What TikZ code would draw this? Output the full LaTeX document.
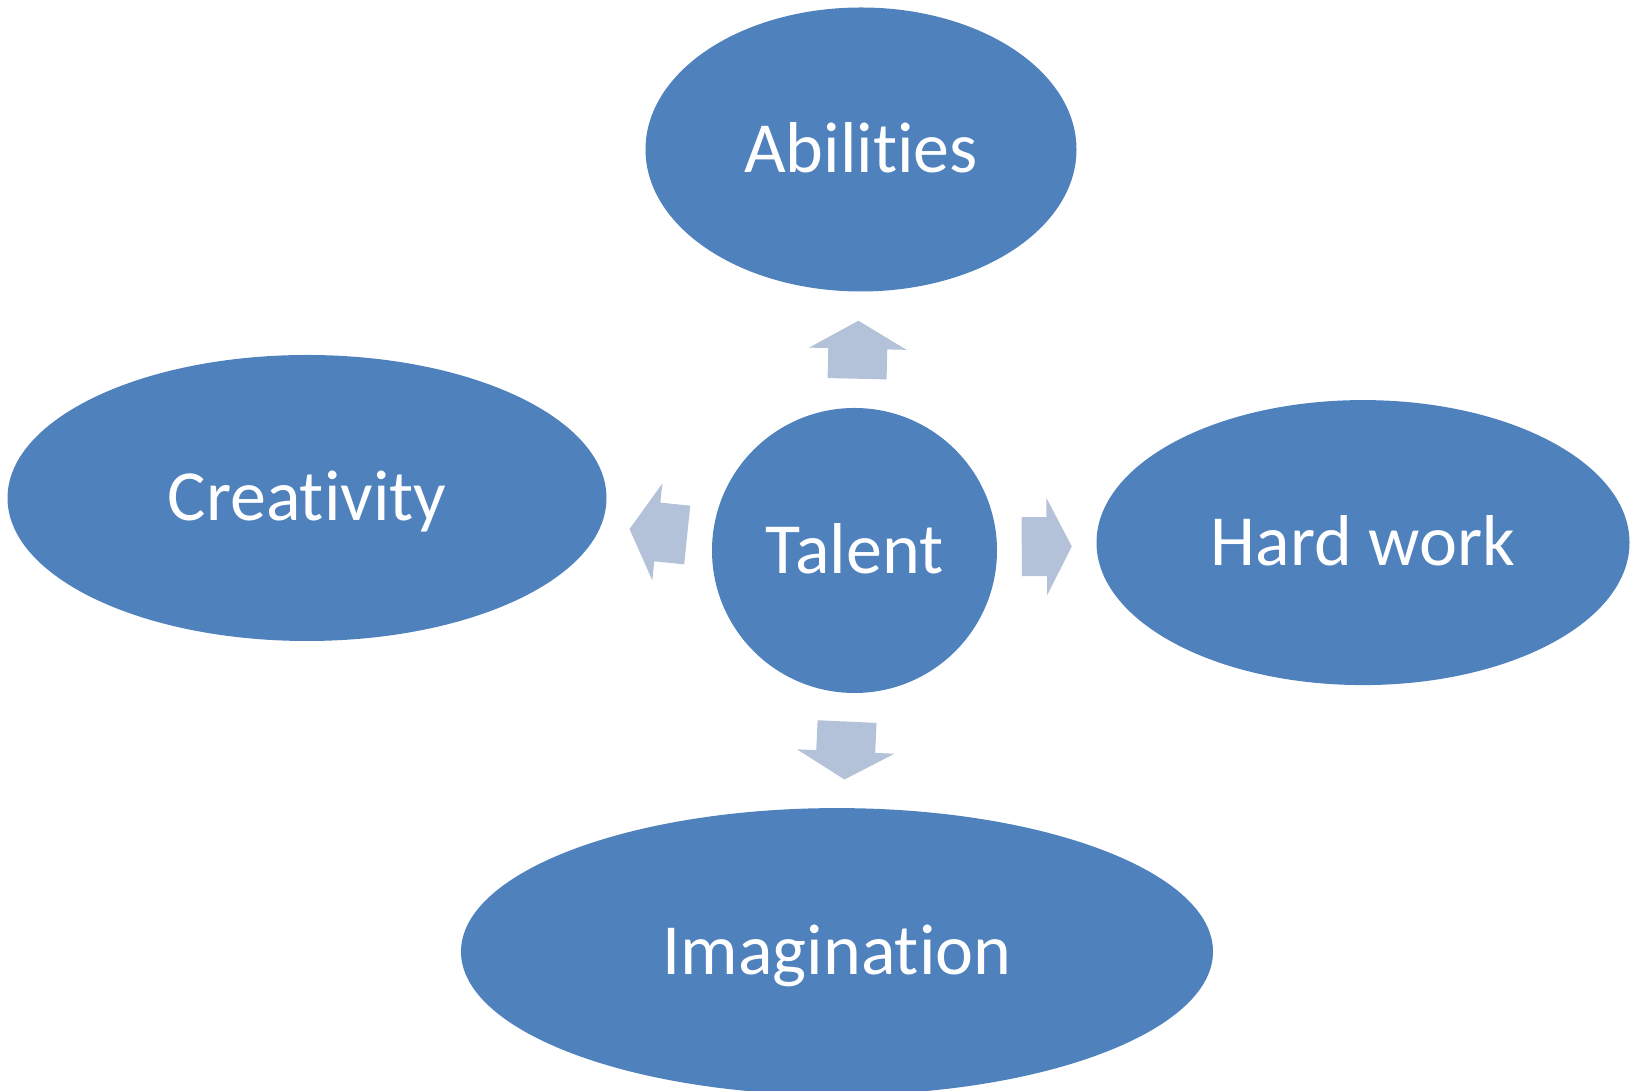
\documentclass[tikz,border=0pt]{standalone}
\usepackage{fontspec}
\setmainfont{Carlito}[Ligatures=CommonOff]
\usepackage{tikz}
\usetikzlibrary{shapes.geometric, calc}

\definecolor{bubbleblue}{HTML}{4F81BD}
\definecolor{arrowblue}{HTML}{B3C1D9}

\tikzset{
    bubble/.style={ellipse, fill=bubbleblue, text=white, inner sep=0pt, outer sep=0pt,
        font=\fontsize{72}{80}\selectfont, text height=45.5pt, text depth=0pt},
}

\begin{document}
\begin{tikzpicture}[x=1pt, y=1pt]
    \useasboundingbox (0,0) rectangle (1633,1091);

    % centre
    \node[bubble, circle, minimum size=285] (talent) at (854.5,540.5) {Talent};

    % outer bubbles
    \node[bubble, minimum width=431, minimum height=284] (abilities) at (861,941.5) {Abilities};
    \node[bubble, minimum width=599, minimum height=286] (creativity) at (307,593) {Creativity};
    \node[bubble, minimum width=533, minimum height=285] (hardwork) at (1363,548.4) {Hard work};
    \node[bubble, minimum width=752, minimum height=287] (imagination) at (837,139.4) {Imagination};

    % block arrows in the gaps
    \foreach \from/\to/\ang/\len/\head in {
        talent.north/abilities.south/88.7/58/28,
        talent.west/creativity.-3/174.1/58/28,
        talent.east/hardwork.west/0.5/50/25,
        talent.south/imagination.north/-92.6/58/28}{

        \fill[arrowblue, shift={($(\from)!0.5!(\to)$)}, rotate=\ang]
            (-\len/2,-29.5) -- (\len/2-\head,-29.5) -- (\len/2-\head,-48.75)
            -- (\len/2,0)
            -- (\len/2-\head,48.75) -- (\len/2-\head,29.5) -- (-\len/2,29.5) -- cycle;
    }
\end{tikzpicture}
\end{document}
